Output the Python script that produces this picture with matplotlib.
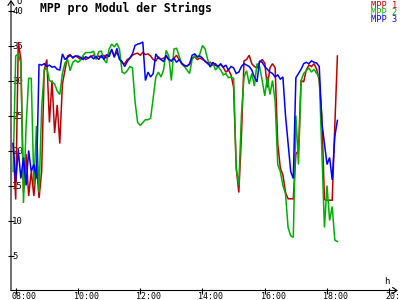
import numpy as np
import matplotlib
matplotlib.use('Agg')
import matplotlib.pyplot as plt
import matplotlib.transforms as mtrans

plt.rcParams['font.family'] = ['DejaVu Sans Mono', 'DejaVu Sans']

# time grid: first sample 07:55, every 5 minutes
start_min = 7 * 60 + 55
step_min = 5

mpp1 = [21, 13, 35.5, 33, 14, 19.5, 13.5, 17, 13.5, 18,
        13.2, 17, 31.5, 33, 24, 30, 22.5, 26.5, 21, 29.5,
        31.5, 33.5, 33.7, 33.2, 33.5, 33.3, 33.0, 33.4, 33.0, 33.2,
        33.4, 33.6, 33.2, 33.5, 33.3, 33.6, 33.2, 33.8, 34.3, 33.5,
        34.0, 33.2, 32.5, 32.4, 33.0, 33.2, 33.6, 33.8, 33.9, 33.6,
        34.0, 33.7, 33.8, 33.5, 33.0, 32.8, 33.4, 33.0, 33.2, 33.4,
        33.0, 32.8, 33.2, 33.6, 33.0, 32.5, 32.2, 32.0, 32.4, 33.2,
        33.4, 33.0, 33.2, 33.0, 32.8, 32.4, 32.6, 32.2, 32.4, 32.0,
        32.3, 31.9, 31.2, 31.5, 30.8, 29.0, 17.5, 14.0, 22.0, 32.8,
        33.0, 33.6, 32.4, 32.0, 31.8, 32.6, 33.0, 32.5, 29.0, 31.8,
        32.4, 31.8, 21.0, 17.5, 16.5, 14.0, 13.1, 13.1, 13.1, 19.5,
        20.0, 30.0, 29.8, 31.5, 32.2, 32.0, 32.4, 31.6, 30.0, 25.0,
        13.0, 12.9, 12.9, 12.9, 23.5, 33.5]

mpp2 = [17, 33.5, 33.8, 32.5, 12.5, 23.5, 30.3, 30.3, 15.0, 23.5,
        14.0, 26.0, 31.5, 31.8, 30.0, 29.8, 29.5, 28.5, 28.0, 31.0,
        32.5, 33.0, 31.4, 32.6, 32.9, 32.6, 32.9, 33.6, 34.0, 34.0,
        34.0, 34.2, 33.0, 34.1, 34.2, 33.0, 32.5, 34.5, 35.2, 34.8,
        35.3, 34.5, 31.2, 31.0, 31.4, 32.0, 31.8, 27.0, 24.0, 23.6,
        24.0, 24.4, 24.4, 24.6, 27.5, 30.5, 31.2, 30.5, 31.5, 34.3,
        33.5, 30.0, 34.5, 34.6, 33.5, 32.4, 32.0, 31.5, 31.0, 33.0,
        33.5, 33.2, 33.8, 35.0, 34.5, 33.0, 31.9, 32.6, 31.5, 32.0,
        31.5, 30.8, 31.0, 30.4, 30.5, 30.3, 17.5, 15.0, 25.0, 30.5,
        31.4, 29.5, 31.0, 29.2, 32.4, 32.0, 30.0, 27.8, 30.5, 28.0,
        30.0, 27.0, 18.0, 17.0, 15.0, 13.8, 9.0, 7.8, 7.6, 25.0,
        18.0, 30.0, 31.0, 31.4, 31.8, 31.2, 31.6, 31.0, 30.5, 20.0,
        9.0, 15.0, 10.0, 12.0, 7.2, 7.0]

mpp3 = [21, 15.5, 20, 16, 19, 15, 20, 17, 18, 16,
        32.3, 32.2, 32.4, 32.0, 32.2, 31.9, 32.0, 31.6, 31.5, 33.8,
        33.0, 33.3, 33.6, 33.3, 33.5, 33.5, 33.3, 33.0, 33.4, 33.2,
        33.5, 33.1, 33.4, 33.0, 33.6, 33.0, 33.7, 33.4, 34.5, 33.3,
        34.6, 33.0, 32.7, 32.0, 32.7, 33.2, 33.8, 35.0, 35.2, 35.3,
        35.5, 30.0, 31.2, 30.5, 31.0, 33.8, 33.2, 33.0, 32.7, 33.6,
        33.0, 32.8, 33.2, 32.6, 33.0, 32.4, 32.1, 32.1, 32.3, 33.6,
        33.8, 33.4, 33.5, 33.2, 32.7, 32.5, 32.0, 32.6, 32.2, 32.0,
        32.4, 31.9, 32.2, 31.5, 32.0, 31.8, 31.0, 31.2, 32.0, 32.4,
        32.2, 32.0, 31.5, 30.5, 29.8, 32.8, 32.6, 32.0, 31.6, 31.2,
        31.0, 30.5, 30.8, 30.2, 30.5, 25.0, 21.0, 17.0, 16.0, 30.4,
        31.0, 31.6, 32.4, 32.6, 32.4, 32.8, 32.6, 32.5, 32.0, 24.0,
        21.0, 18.0, 19.0, 15.8, 22.0, 24.3]

series_labels = ['MPP 1', 'MPP 2', 'MPP 3']
colors = ['#c00000', '#00b000', '#0000ff']
xtick_hours = [8, 10, 12, 14, 16, 18, 20]
xtick_labels = ['08:00', '10:00', '12:00', '14:00', '16:00', '18:00', '20:00']
ytick_vals = [5, 10, 15, 20, 25, 30, 35, 40]

t = (start_min + step_min * np.arange(len(mpp1))) / 60.0

fig = plt.figure(figsize=(4, 3), dpi=100)
fig.patch.set_facecolor('white')
ax = fig.add_axes([11 / 400, 9.5 / 300, 387 / 400, 290.5 / 300])
ax.set_xlim(7.849, 20.28)
ax.set_ylim(0, 41.5)

for s, c in zip([mpp1, mpp2, mpp3], colors):
    ax.plot(t, s, color=c, lw=1.1, solid_joinstyle='miter')

for sp in ax.spines.values():
    sp.set_visible(False)

ap = dict(arrowstyle='->,head_length=0.32,head_width=0.22', lw=0.8,
          color='black', shrinkA=0, shrinkB=0)
ax.annotate('', xy=(0, 1), xytext=(0, 0), xycoords='axes fraction',
            arrowprops=ap, annotation_clip=False)
ax.annotate('', xy=(1, 0), xytext=(0, 0), xycoords='axes fraction',
            arrowprops=ap, annotation_clip=False)

ax.set_xticks(xtick_hours, xtick_labels)
ax.set_yticks(ytick_vals, [str(v) for v in ytick_vals])
ax.tick_params(direction='inout', length=4.3, width=0.8, labelsize=6.5,
               colors='black')
ax.tick_params(axis='y', pad=-2.9)
ax.tick_params(axis='x', pad=-1.0, labelsize=6.0)
for lab in ax.get_yticklabels():
    lab.set_ha('left')
off = mtrans.ScaledTranslation(-4 / 100, 0, fig.dpi_scale_trans)
for lab in ax.get_xticklabels():
    lab.set_ha('left')
    lab.set_transform(lab.get_transform() + off)

fig.text(16 / 400, 1 + 2.5 / 300, 'U', fontsize=6.5, ha='left', va='top')
fig.text(384 / 400, 1 - 286 / 300, 'h', fontsize=6.5, ha='left', va='bottom')

fig.text(40 / 400, 1 - 2.0 / 300, 'MPP pro Modul der Strings',
         fontsize=8.3, fontweight='bold', ha='left', va='top')

for k, (lab, c) in enumerate(zip(series_labels, colors)):
    fig.text(397 / 400, 1 - (0.5 + 7.5 * k) / 300, lab, fontsize=6.2,
             color=c, ha='right', va='top')

fig.savefig('out.png', dpi=100)
